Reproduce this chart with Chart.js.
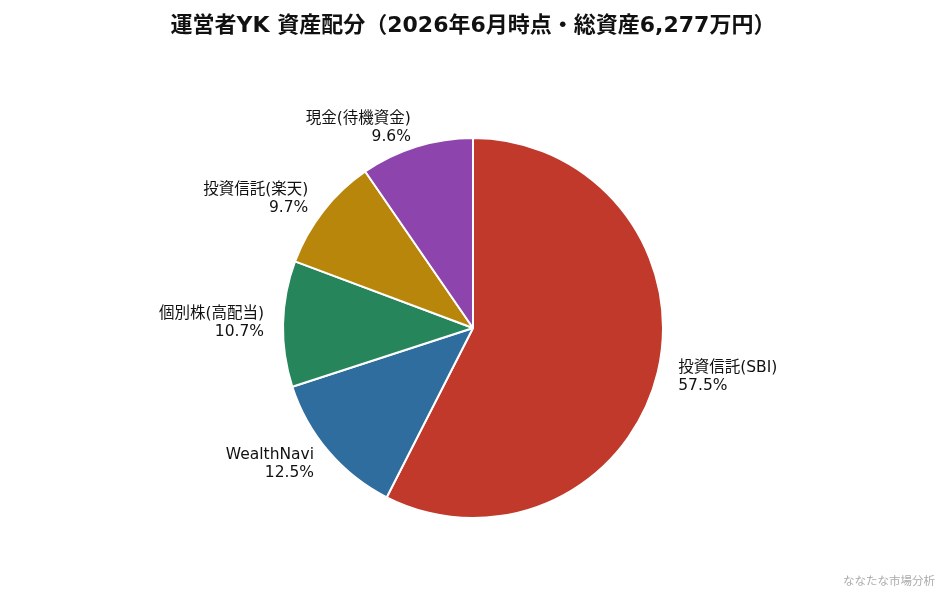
<!DOCTYPE html>
<html lang="ja">
<head>
<meta charset="utf-8">
<script src="https://cdn.jsdelivr.net/npm/chart.js@4.4.1/dist/chart.umd.min.js"></script>
<style>
  html, body { margin: 0; padding: 0; background: #fff; }
  #wrap { width: 946px; height: 594px; position: relative; }
</style>
</head>
<body>
<div id="wrap"><canvas id="pieChart"></canvas></div>
<script>
// データ
const labels = ["投資信託(SBI)", "WealthNavi", "個別株(高配当)", "投資信託(楽天)", "現金(待機資金)"];
const shares = [57.5, 12.5, 10.7, 9.7, 9.6];
const colors = ["#c0392b", "#2e6d9e", "#27855b", "#b8860b", "#8e44ad"];

const titleText = "運営者YK 資産配分（2026年6月時点・総資産6,277万円）";
const creditText = "ななたな市場分析";

const FONT = "'DejaVu Sans', 'Noto Sans CJK JP', sans-serif";

// ラベル・タイトル描画
const pieLabels = {
  id: "pieLabels",
  afterDatasetsDraw(chart) {
    const ctx = chart.ctx;
    const meta = chart.getDatasetMeta(0);
    ctx.save();
    ctx.fillStyle = "#111";
    ctx.font = "15.5px " + FONT;
    ctx.textBaseline = "middle";
    meta.data.forEach((arc, i) => {
      const mid = (arc.startAngle + arc.endAngle) / 2;
      const r = arc.outerRadius * 1.1;
      const x = arc.x + Math.cos(mid) * r;
      const y = arc.y + Math.sin(mid) * r;
      const left = Math.cos(mid) >= 0;
      ctx.textAlign = left ? "left" : "right";
      const tx = x + (left ? 2 : 0);
      ctx.fillText(labels[i], tx, y - 9);
      ctx.fillText(shares[i].toFixed(1) + "%", tx, y + 9);
    });

    ctx.textAlign = "center";
    ctx.font = "bold 22px " + FONT;
    ctx.fillText(titleText, chart.width / 2, 26);

    ctx.textAlign = "right";
    ctx.fillStyle = "#aaa";
    ctx.font = "11.5px " + FONT;
    ctx.fillText(creditText, 935, 582);
    ctx.restore();
  }
};

new Chart(document.getElementById("pieChart"), {
  type: "pie",
  data: {
    labels: labels,
    datasets: [{
      data: shares,
      backgroundColor: colors,
      borderColor: "#fff",
      borderWidth: 2
    }]
  },
  options: {
    responsive: true,
    maintainAspectRatio: false,
    animation: false,
    layout: { padding: { top: 137, bottom: 75, left: 0, right: 0 } },
    plugins: {
      legend: { display: false },
      tooltip: { enabled: false },
      title: { display: false }
    }
  },
  plugins: [pieLabels]
});
</script>
</body>
</html>
